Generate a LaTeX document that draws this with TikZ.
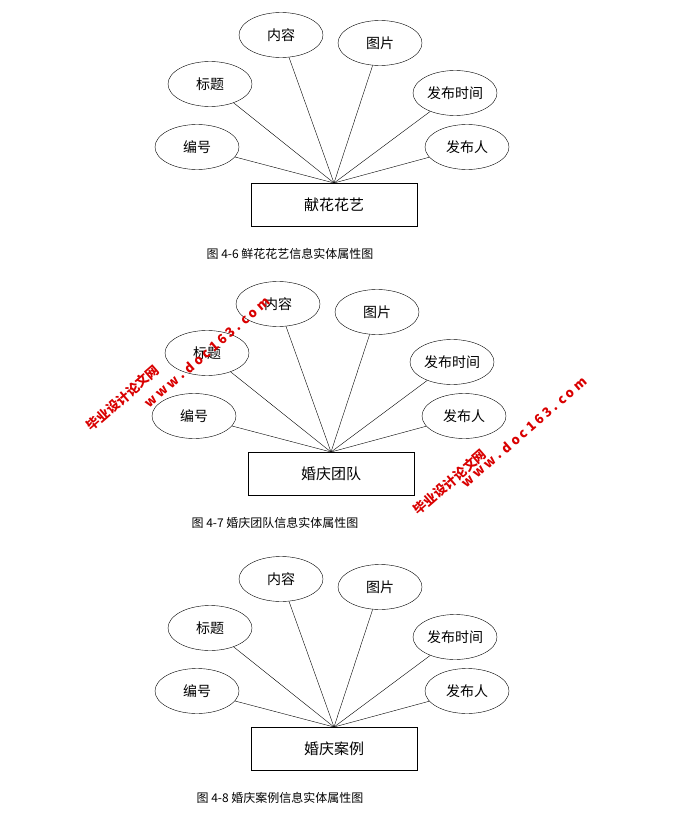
\documentclass[tikz,border=0pt]{standalone}
\usepackage{fontspec}
\setmainfont{Noto Sans CJK SC}
\usetikzlibrary{shapes.geometric}
\tikzset{attr/.style={draw,ellipse,minimum width=84pt,minimum height=45pt,inner sep=0pt,font=\fontsize{14}{14}\selectfont},
ent/.style={draw,minimum width=166pt,minimum height=43pt,font=\fontsize{15}{15}\selectfont},
captxt/.style={font=\fontsize{12}{12}\selectfont},
wm/.style={text=red!85!black,font=\bfseries\fontsize{13}{13}\selectfont,rotate=41}}
\begin{document}
\begin{tikzpicture}[x=1pt,y=-1pt]
\useasboundingbox (0,0) rectangle (672,821);
\foreach \d/\dy/\dx/\name/\cp/\cx in {a/0/0/献花花艺/图 4-6 鲜花花艺信息实体属性图/290, b/269/-3/婚庆团队/图 4-7 婚庆团队信息实体属性图/275, c/544/0/婚庆案例/图 4-8 婚庆案例信息实体属性图/280}{
  \node[ent] (\d E) at (334+\dx,204.5+\dy) {\name};
  \coordinate (\d C) at (334+\dx,183+\dy);
  \node[attr] (\d 1) at (197+\dx,147+\dy) {编号};
  \node[attr] (\d 2) at (210+\dx,84+\dy) {标题};
  \node[attr] (\d 3) at (281+\dx,35+\dy) {内容};
  \node[attr] (\d 4) at (380+\dx,43+\dy) {图片};
  \node[attr] (\d 5) at (455+\dx,93+\dy) {发布时间};
  \node[attr] (\d 6) at (467+\dx,147+\dy) {发布人};
  \foreach \i in {1,...,6}{\draw (\d\i) -- (\d C);}
  \node[captxt] (\d T) at (\cx,254+\dy) {\cp};
}
\node[wm] (w1) at (123,398) {毕业设计论文网};
\node[wm] (w2) at (207,352) {w w w . d o c 1 6 3 . c o m};
\node[wm] (w3) at (450,482) {毕业设计论文网};
\node[wm] (w4) at (524,432) {w w w . d o c 1 6 3 . c o m};
\end{tikzpicture}
\end{document}
